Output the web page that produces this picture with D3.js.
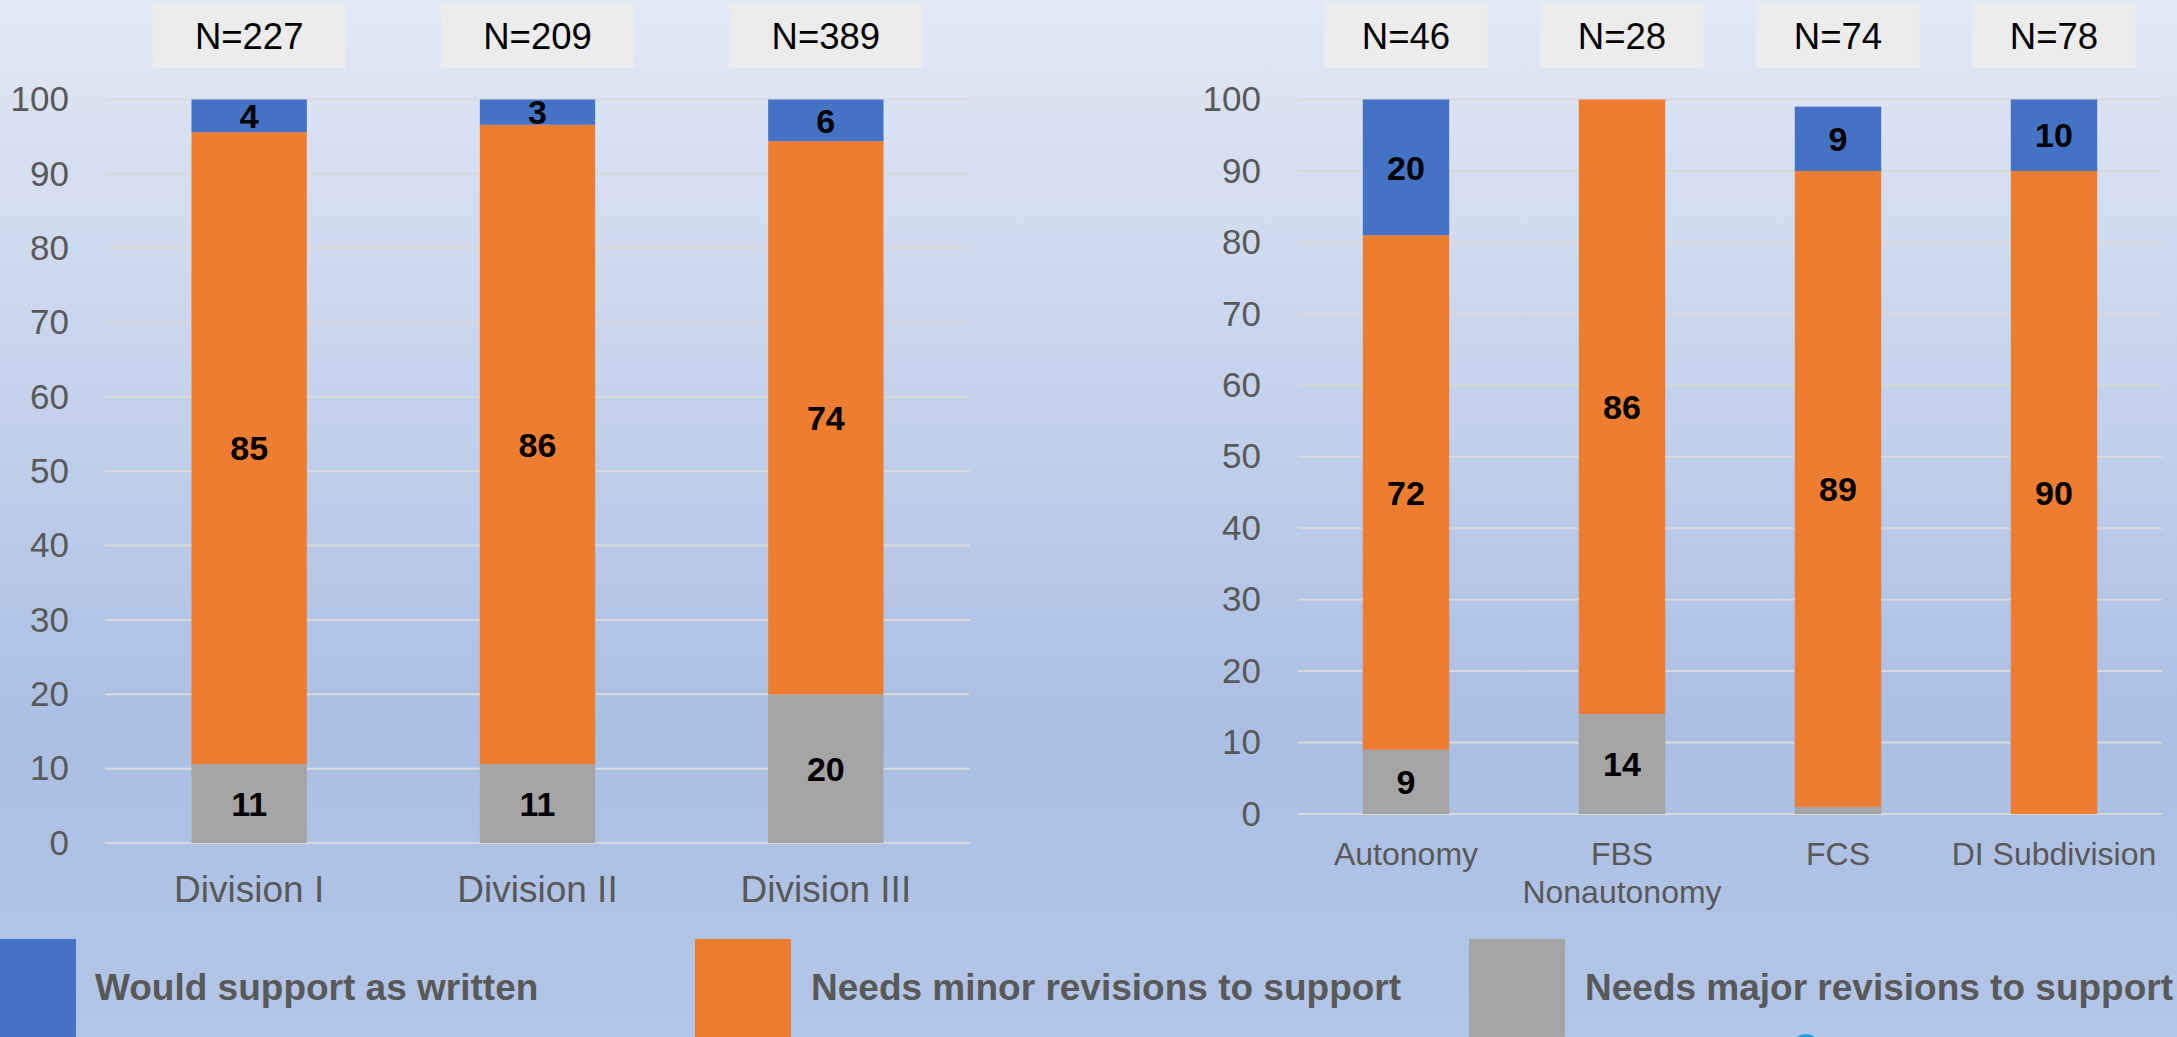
<!DOCTYPE html>
<html>
<head>
<meta charset="utf-8">
<script src="https://cdn.jsdelivr.net/npm/d3@7"></script>
<style>
  html, body { margin: 0; padding: 0; overflow: hidden; }
  svg { display: block; }
</style>
</head>
<body>
<script>
// chart data
var leftCategories = ["Division I", "Division II", "Division III"];
var leftN = ["N=227", "N=209", "N=389"];
var leftMajor = [10.6, 10.6, 20.0];
var leftMinor = [85.0, 86.0, 74.4];
var leftSupport = [4.4, 3.4, 5.6];
var leftMajorLabels = ["11", "11", "20"];
var leftMinorLabels = ["85", "86", "74"];
var leftSupportLabels = ["4", "3", "6"];

var rightCategories = ["Autonomy", "FBS\nNonautonomy", "FCS", "DI Subdivision"];
var rightN = ["N=46", "N=28", "N=74", "N=78"];
var rightMajor = [9, 14, 1, 0];
var rightMinor = [72, 86, 89, 90];
var rightSupport = [19, 0, 9, 10];
var rightMajorLabels = ["9", "14", "", ""];
var rightMinorLabels = ["72", "86", "89", "90"];
var rightSupportLabels = ["20", "", "9", "10"];

var legendLabels = ["Would support as written", "Needs minor revisions to support", "Needs major revisions to support"];
var yTicks = [0, 10, 20, 30, 40, 50, 60, 70, 80, 90, 100];

var keys = ["major", "minor", "support"];
var colors = { support: "#4472c4", minor: "#ed7d31", major: "#a5a5a5" };
var textGrey = "#595959";
var font = "'Liberation Sans', Arial, sans-serif";

var width = 2177,
    height = 1037;

var svg = d3.select("body")
    .append("svg")
    .attr("width", width)
    .attr("height", height)
    .style("font-family", font);

// background gradient
var grad = svg.append("defs").append("linearGradient")
    .attr("id", "bg")
    .attr("x1", 0).attr("y1", 0).attr("x2", 0).attr("y2", 1);
grad.append("stop").attr("offset", "0%").attr("stop-color", "#e3e9f5");
grad.append("stop").attr("offset", "70%").attr("stop-color", "#abbfe4");
grad.append("stop").attr("offset", "100%").attr("stop-color", "#b3c6e7");

svg.append("rect")
    .attr("width", width)
    .attr("height", height)
    .attr("fill", "url(#bg)");

// build one stacked panel
function drawPanel(opts) {
    var rows = opts.categories.map(function (c, i) {
        return {
            cat: c,
            major: opts.major[i], minor: opts.minor[i], support: opts.support[i],
            labels: { major: opts.majorLabels[i], minor: opts.minorLabels[i], support: opts.supportLabels[i] }
        };
    });

    var x = d3.scaleBand()
        .domain(opts.categories)
        .range([opts.x0, opts.x1])
        .paddingInner(0.6)
        .paddingOuter(0.3);

    var y = d3.scaleLinear()
        .domain([0, 100])
        .range([opts.yBottom, opts.yTop]);

    var g = svg.append("g");

    // gridlines
    g.selectAll("line.grid")
        .data(yTicks)
        .enter()
        .append("line")
        .attr("class", "grid")
        .attr("x1", opts.x0)
        .attr("x2", opts.x1)
        .attr("y1", function (d) { return y(d); })
        .attr("y2", function (d) { return y(d); })
        .attr("stroke", "#d9d9d9")
        .attr("stroke-width", 2);

    // y axis labels
    var yAxis = g.append("g")
        .attr("transform", "translate(" + opts.x0 + ",0)")
        .call(d3.axisLeft(y).tickValues(yTicks).tickSize(0).tickPadding(opts.x0 - opts.labelRight));
    yAxis.select(".domain").remove();
    yAxis.selectAll("text")
        .attr("fill", textGrey)
        .style("font-family", font)
        .style("font-size", "35px");

    // stacked bars
    var series = d3.stack().keys(keys)(rows);

    var layers = g.selectAll("g.layer")
        .data(series)
        .enter()
        .append("g")
        .attr("class", "layer")
        .attr("fill", function (d) { return colors[d.key]; });

    layers.selectAll("rect")
        .data(function (d) { return d; })
        .enter()
        .append("rect")
        .attr("x", function (d) { return x(d.data.cat); })
        .attr("width", x.bandwidth())
        .attr("y", function (d) { return y(d[1]); })
        .attr("height", function (d) { return y(d[0]) - y(d[1]); });

    // value labels
    layers.selectAll("text")
        .data(function (s) {
            return s.map(function (d) { return { d: d, key: s.key }; });
        })
        .enter()
        .filter(function (o) { return o.d.data.labels[o.key] !== ""; })
        .append("text")
        .attr("x", function (o) { return x(o.d.data.cat) + x.bandwidth() / 2; })
        .attr("y", function (o) { return (y(o.d[0]) + y(o.d[1])) / 2; })
        .attr("dy", "0.36em")
        .attr("text-anchor", "middle")
        .attr("fill", "#000")
        .style("font-size", "34px")
        .style("font-weight", "bold")
        .text(function (o) { return o.d.data.labels[o.key]; });

    // x category labels (multi-line)
    var xl = g.selectAll("text.xlab")
        .data(opts.categories)
        .enter()
        .append("text")
        .attr("class", "xlab")
        .attr("x", function (d) { return x(d) + x.bandwidth() / 2; })
        .attr("y", opts.xLabelY)
        .attr("text-anchor", "middle")
        .attr("fill", textGrey)
        .style("font-size", opts.xLabelSize + "px");
    xl.each(function (d) {
        var t = d3.select(this);
        d.split("\n").forEach(function (line, i) {
            t.append("tspan")
                .attr("x", x(d) + x.bandwidth() / 2)
                .attr("dy", i === 0 ? 0 : 38)
                .text(line);
        });
    });

    // N boxes above the bars
    var nb = g.selectAll("g.nbox")
        .data(opts.categories)
        .enter()
        .append("g")
        .attr("class", "nbox")
        .attr("transform", function (d) {
            return "translate(" + (x(d) + x.bandwidth() / 2) + ",0)";
        });
    nb.append("rect")
        .attr("x", -opts.boxWidth / 2)
        .attr("y", 3)
        .attr("width", opts.boxWidth)
        .attr("height", 65)
        .attr("fill", "#ececec");
    nb.append("text")
        .attr("y", 36)
        .attr("dy", "0.36em")
        .attr("text-anchor", "middle")
        .attr("fill", "#000")
        .style("font-size", "36.5px")
        .text(function (d, i) { return opts.n[i]; });
}

drawPanel({
    categories: leftCategories, n: leftN,
    major: leftMajor, minor: leftMinor, support: leftSupport,
    majorLabels: leftMajorLabels, minorLabels: leftMinorLabels, supportLabels: leftSupportLabels,
    x0: 105, x1: 970, yTop: 99.5, yBottom: 843, labelRight: 69,
    xLabelY: 902, xLabelSize: 37, boxWidth: 193
});

drawPanel({
    categories: rightCategories, n: rightN,
    major: rightMajor, minor: rightMinor, support: rightSupport,
    majorLabels: rightMajorLabels, minorLabels: rightMinorLabels, supportLabels: rightSupportLabels,
    x0: 1298, x1: 2162, yTop: 99.5, yBottom: 814, labelRight: 1261,
    xLabelY: 865, xLabelSize: 32, boxWidth: 163
});

// legend along the bottom
var legendX = [0, 695, 1469];
var legend = svg.append("g")
    .selectAll("g")
    .data(legendLabels)
    .enter()
    .append("g")
    .attr("transform", function (d, i) { return "translate(" + legendX[i] + ",939)"; });

legend.append("rect")
    .attr("width", function (d, i) { return i === 0 ? 76 : 96; })
    .attr("height", 98)
    .attr("fill", function (d, i) { return colors[["support", "minor", "major"][i]]; });

legend.append("text")
    .attr("x", function (d, i) { return i === 0 ? 95 : 116; })
    .attr("y", 61)
    .attr("fill", textGrey)
    .style("font-size", "37px")
    .style("font-weight", "bold")
    .text(function (d) { return d; });

// small logo edge peeking in at the bottom
svg.append("circle")
    .attr("cx", 1806)
    .attr("cy", 1050)
    .attr("r", 16)
    .attr("fill", "#1ba1e2");
</script>
</body>
</html>
